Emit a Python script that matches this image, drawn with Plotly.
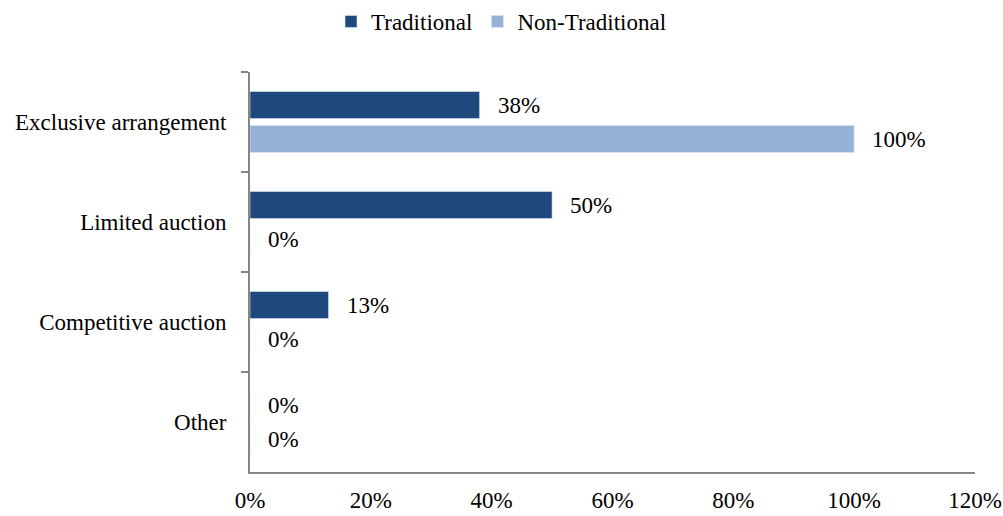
import plotly.graph_objects as go

categories = ["Exclusive arrangement", "Limited auction", "Competitive auction", "Other"]
traditional = [38, 50, 13, 0]
non_traditional = [100, 0, 0, 0]
x_ticks = [0, 20, 40, 60, 80, 100, 120]
x_tick_labels = ["0%", "20%", "40%", "60%", "80%", "100%", "120%"]

DARK = "#1F497D"
LIGHT = "#95B3D7"
AXIS = "#868686"
FONT = "Liberation Serif"
SIZE = 23

fig = go.Figure()
fig.add_trace(go.Bar(name="Traditional", y=categories, x=traditional, orientation="h",
                     marker=dict(color=DARK, line=dict(color="#dce6f2", width=0.6))))
fig.add_trace(go.Bar(name="Non-Traditional", y=categories, x=non_traditional, orientation="h",
                     marker=dict(color=LIGHT, line=dict(color="#dce6f2", width=0.6))))

# value labels sit just right of each bar end
slot = (1 - 0.32) / 2
annotations = []
for series, offset in ((traditional, -slot / 2), (non_traditional, slot / 2)):
    for i, v in enumerate(series):
        annotations.append(dict(x=v, y=i + offset, xref="x", yref="y", text=f"{v}%",
                                showarrow=False, xanchor="left", yanchor="middle", xshift=16,
                                font=dict(family=FONT, size=SIZE, color="#000000")))

fig.update_layout(
    width=1003, height=516,
    margin=dict(l=250, r=28, t=72, b=44, autoexpand=False),
    paper_bgcolor="white", plot_bgcolor="white",
    barmode="group", bargap=0.32, bargroupgap=0.206,
    font=dict(family=FONT, size=SIZE, color="#000000"),
    showlegend=True,
    legend=dict(orientation="h", xref="container", yref="container", x=0.5, y=1.0,
                xanchor="center", yanchor="top", font=dict(family=FONT, size=SIZE),
                traceorder="normal", itemwidth=30),
    annotations=annotations,
    xaxis=dict(range=[0, 120], tickvals=x_ticks, ticktext=x_tick_labels, showgrid=False,
               zeroline=False, showline=True, linecolor=AXIS, linewidth=2, ticks="",
               ticklabelstandoff=6, automargin=False),
    yaxis=dict(type="category", categoryorder="array", categoryarray=categories,
               autorange="reversed", showgrid=False, zeroline=False, showline=True,
               linecolor=AXIS, linewidth=2, ticks="outside", tickson="boundaries",
               ticklen=7, tickwidth=2, tickcolor=AXIS, ticklabelstandoff=17,
               automargin=False),
)

fig.write_html("out.html")
